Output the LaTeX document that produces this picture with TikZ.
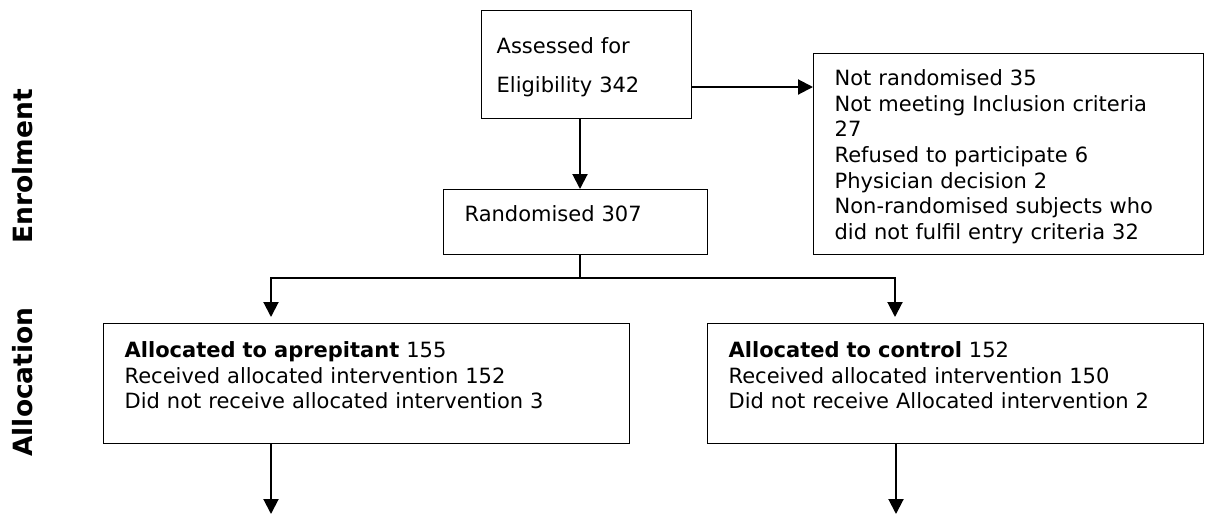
\documentclass[tikz,border=0pt]{standalone}
\usepackage{fontspec}
\setmainfont{DejaVu Sans}
\usepackage{tikz}
\usetikzlibrary{positioning,arrows.meta}

\tikzset{
  boxNode/.style={rectangle, draw, line width=1.3pt, anchor=north west, align=left,
    inner ysep=0pt, inner xsep=21pt, font=\fontsize{21}{25.6}\selectfont},
  sideLabel/.style={rotate=90, anchor=base, font=\bfseries\fontsize{26.5}{30}\selectfont},
  flowArrow/.style={line width=2pt, -{Triangle[length=15pt,width=15pt]}}
}

\begin{document}
\begin{tikzpicture}[x=1pt, y=-1pt]
        \useasboundingbox (0, 0) rectangle (1205, 515);

        \node[sideLabel] (enrolLabel) at (32, 166.5) {Enrolment};
        \node[sideLabel] (allocLabel) at (32, 382) {Allocation};

        \node[boxNode, inner xsep=15pt, text width=180pt, text height=43pt, text depth=65pt,
              font=\fontsize{21}{39}\selectfont] (assessNode) at (481, 10)
              {Assessed for\\Eligibility 342};
        \node[boxNode, text width=348pt, text height=32pt, text depth=169pt] (notRandNode) at (813, 53)
              {Not randomised 35\\Not meeting Inclusion criteria\\27\\Refused to participate 6\\Physician decision 2\\Non-randomised subjects who\\did not fulfil entry criteria 32};
        \node[boxNode, text width=222pt, text height=32pt, text depth=33pt] (randNode) at (443, 189)
              {Randomised 307};
        \node[boxNode, text width=484pt, text height=34pt, text depth=86pt] (apreNode) at (103, 323)
              {\textbf{Allocated to aprepitant} 155\\Received allocated intervention 152\\Did not receive allocated intervention 3};
        \node[boxNode, text width=454pt, text height=34pt, text depth=86pt] (ctrlNode) at (707, 323)
              {\textbf{Allocated to control} 152\\Received allocated intervention 150\\Did not receive Allocated intervention 2};

        \coordinate (split) at (580, 278);
        \coordinate (apreTurn) at (271, 278);
        \coordinate (ctrlTurn) at (895, 278);
        \coordinate (apreOut) at (271, 514);
        \coordinate (ctrlOut) at (896, 514);

        \draw[flowArrow] (assessNode.south -| split) -- (randNode.north -| split);
        \draw[flowArrow] (assessNode.east |- 0, 87) -- (notRandNode.west |- 0, 87);
        \draw[line width=1.3pt] (randNode.south -| split) -- (split);
        \draw[flowArrow, shorten >=6pt] (split) -- (apreTurn) -- (apreNode.north -| apreTurn);
        \draw[flowArrow, shorten >=6pt] (split) -- (ctrlTurn) -- (ctrlNode.north -| ctrlTurn);
        \draw[flowArrow] (apreNode.south -| apreOut) -- (apreOut);
        \draw[flowArrow] (ctrlNode.south -| ctrlOut) -- (ctrlOut);
      \end{tikzpicture}
\end{document}
